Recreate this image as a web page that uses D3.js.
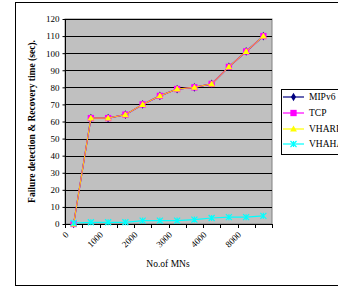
<!DOCTYPE html>
<html><head><meta charset="utf-8">
<script src="https://cdn.jsdelivr.net/npm/d3@7"></script>
<style>body{margin:0;background:#fff}svg{display:block}</style>
</head><body>
<script>
const categories = ["c1","c2","c3","c4","c5","c6","c7","c8","c9","c10","c11","c12"];
const tickLabels = ["0","1000","2000","3000","4000","8000"];
const mipv6 = [0,62,62,64,70,75,79,80,82,92,101,110];
const tcp   = [0,62,62,64,70,75,79,80,82,92,101,110];
const vharp = [0,62,62,64,70,75,79,80,82,92,101,110];
const vhaha = [0.6,1,1,1,2,2,2,2.6,3.5,4,4,4.8];
const yTicks = [0,10,20,30,40,50,60,70,80,90,100,110,120];
const seriesNames = ["MIPv6","TCP","VHARP","VHAHA"];
const seriesColors = ["#000080","#ff00ff","#ffff00","#00ffff"];

const W=338,H=287;
const svg=d3.select("body").append("svg").attr("width",W).attr("height",H);
const font="'Liberation Serif','Times New Roman',serif";

svg.append("rect").attr("x",15.5).attr("y",2.5).attr("width",400).attr("height",283)
  .attr("fill","#fff").attr("stroke","#000").attr("stroke-width",1);

const L=65,R=272,T=19,B=224;
const x=d3.scaleBand().domain(categories).range([L,R]);
const y=d3.scaleLinear().domain([0,120]).range([B,T]);

svg.append("rect").attr("x",L).attr("y",T).attr("width",R-L).attr("height",B-T)
  .attr("fill","#c0c0c0").attr("stroke","#808080").attr("stroke-width",1);

svg.append("g").selectAll("line").data(yTicks.filter(d=>d>0)).join("line")
  .attr("x1",L).attr("x2",R).attr("y1",d=>Math.round(y(d))+0.5).attr("y2",d=>Math.round(y(d))+0.5)
  .attr("stroke","#000").attr("stroke-width",1);

const yAxis=svg.append("g").attr("transform",`translate(${L+0.5},0)`)
  .call(d3.axisLeft(y).tickValues(yTicks).tickSize(3).tickPadding(3).tickFormat(d3.format("d")));
yAxis.selectAll("text").attr("font-family",font).attr("font-size","9px").attr("fill","#000");
yAxis.selectAll("line,path").attr("stroke","#000");
yAxis.select(".domain").attr("d",`M0,${T}V${B}`);

const gx=svg.append("g");
gx.append("line").attr("x1",L).attr("x2",R).attr("y1",B+0.5).attr("y2",B+0.5).attr("stroke","#000");
const bounds=categories.map(c=>x(c)).concat([R]);
gx.selectAll("line.tk").data(bounds).join("line").attr("class","tk")
  .attr("x1",d=>Math.round(d)+0.5).attr("x2",d=>Math.round(d)+0.5).attr("y1",B).attr("y2",B+4).attr("stroke","#000");
gx.selectAll("text").data(tickLabels).join("text")
  .attr("transform",(d,i)=>`translate(${x(categories[i*2])+2},${B+9}) rotate(-45)`)
  .attr("text-anchor","end").attr("dy","0.35em")
  .attr("font-family",font).attr("font-size","9px").attr("fill","#000").text(d=>d);

svg.append("text").attr("transform",`translate(35,${(T+B)/2}) rotate(-90)`)
  .attr("text-anchor","middle").attr("font-family",font).attr("font-size","9.5px").attr("font-weight","bold")
  .text("Failure detection & Recovery time (sec).");
svg.append("text").attr("x",168).attr("y",267).attr("text-anchor","middle")
  .attr("font-family",font).attr("font-size","9.5px").text("No.of MNs");

const cx=i=>x(categories[i])+x.bandwidth()/2;
const line=d3.line().x((d,i)=>cx(i)).y(d=>y(d));
const allData=[mipv6,tcp,vharp,vhaha];
const sym=[d3.symbolDiamond,d3.symbolSquare,d3.symbolTriangle,null];
const symSize=[22,40,20,0];
function marker(g,k,px,py){
  if(k===3){
    const s=3;
    g.append("path").attr("d",`M${px-s},${py-s}L${px+s},${py+s}M${px-s},${py+s}L${px+s},${py-s}M${px},${py-s}L${px},${py+s}`)
      .attr("stroke",seriesColors[k]).attr("stroke-width",1.2).attr("fill","none");
  } else {
    g.append("path").attr("d",d3.symbol().type(sym[k]).size(symSize[k])())
      .attr("transform",`translate(${px},${py+(k===2?0.5:0)})`).attr("fill",seriesColors[k]);
  }
}
allData.forEach((data,k)=>{
  const g=svg.append("g");
  g.append("path").attr("d",line(data)).attr("fill","none").attr("stroke",k===2?"#ffd000":seriesColors[k])
    .attr("stroke-width",k===2?1:1.2);
  data.forEach((v,i)=>marker(g,k,cx(i),y(v)));
});

const lg=svg.append("g");
lg.append("rect").attr("x",281.5).attr("y",89.5).attr("width",80).attr("height",65)
  .attr("fill","#fff").attr("stroke","#000");
const ly=[97,113,129,144];
seriesNames.forEach((n,k)=>{
  lg.append("line").attr("x1",283).attr("x2",304).attr("y1",ly[k]).attr("y2",ly[k]).attr("stroke",seriesColors[k]).attr("stroke-width",1.2);
  marker(lg,k,293.5,ly[k]);
  lg.append("text").attr("x",309).attr("y",ly[k]).attr("dy","0.35em")
    .attr("font-family",font).attr("font-size","9.5px").text(n);
});
</script>
</body></html>
